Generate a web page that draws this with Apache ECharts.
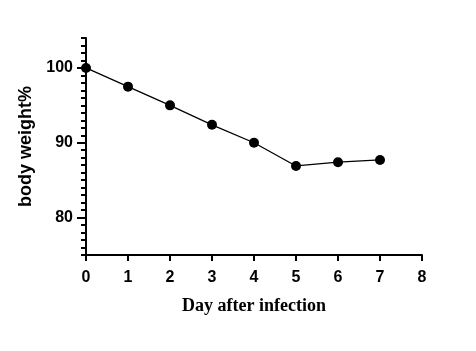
<!DOCTYPE html>
<html><head><meta charset="utf-8">
<script src="https://cdn.jsdelivr.net/npm/echarts@6/dist/echarts.min.js"></script>
<style>html,body{margin:0;padding:0;background:#fff}#c{width:476px;height:351px}</style>
</head><body><div id="c"></div>
<script>
const days = [0, 1, 2, 3, 4, 5, 6, 7];
const bodyWeight = [100, 97.5, 95, 92.4, 90, 86.9, 87.4, 87.7];
const yMajorTicks = [80, 90, 100];
const xTicks = [0, 1, 2, 3, 4, 5, 6, 7, 8];

const chart = echarts.init(document.getElementById('c'));
const labelFont = {color: '#000', fontFamily: 'Liberation Sans, Arial', fontWeight: 'bold', fontSize: 16};
chart.setOption({
  animation: false,
  grid: {left: 86, right: 54, top: 38, bottom: 96},
  xAxis: {
    type: 'value', min: 0, max: 8, interval: 1,
    axisLine: {show: true, lineStyle: {color: '#000', width: 2}},
    axisTick: {show: true, length: 6, lineStyle: {color: '#000', width: 2}},
    axisLabel: Object.assign({margin: 15, formatter: v => xTicks.includes(v) ? String(v) : ''}, labelFont),
    splitLine: {show: false},
    name: 'Day after infection', nameLocation: 'middle', nameGap: 42,
    nameTextStyle: {color: '#000', fontFamily: 'Liberation Serif, Times New Roman', fontWeight: 'bold', fontSize: 18}
  },
  yAxis: [{
    type: 'value', min: 75, max: 104, interval: 1,
    axisLine: {show: true, lineStyle: {color: '#000', width: 2}},
    axisTick: {show: true, length: 5, lineStyle: {color: '#000', width: 2}},
    axisLabel: {show: false},
    splitLine: {show: false}
  }, {
    type: 'value', min: 75, max: 104, position: 'left',
    axisLine: {show: false},
    axisTick: {show: true, length: 9, customValues: yMajorTicks, lineStyle: {color: '#000', width: 2}},
    axisLabel: Object.assign({margin: 13, customValues: yMajorTicks}, labelFont),
    splitLine: {show: false},
    name: 'body weight%', nameLocation: 'middle', nameGap: 48, nameRotate: 90,
    nameTextStyle: {color: '#000', fontFamily: 'Liberation Sans, Arial', fontWeight: 'bold', fontSize: 18}
  }],
  series: [{
    type: 'line', yAxisIndex: 0,
    data: days.map((d, i) => [d, bodyWeight[i]]),
    symbol: 'circle', symbolSize: 10,
    lineStyle: {color: '#000', width: 1.3},
    itemStyle: {color: '#000'}
  }]
});
</script></body></html>
